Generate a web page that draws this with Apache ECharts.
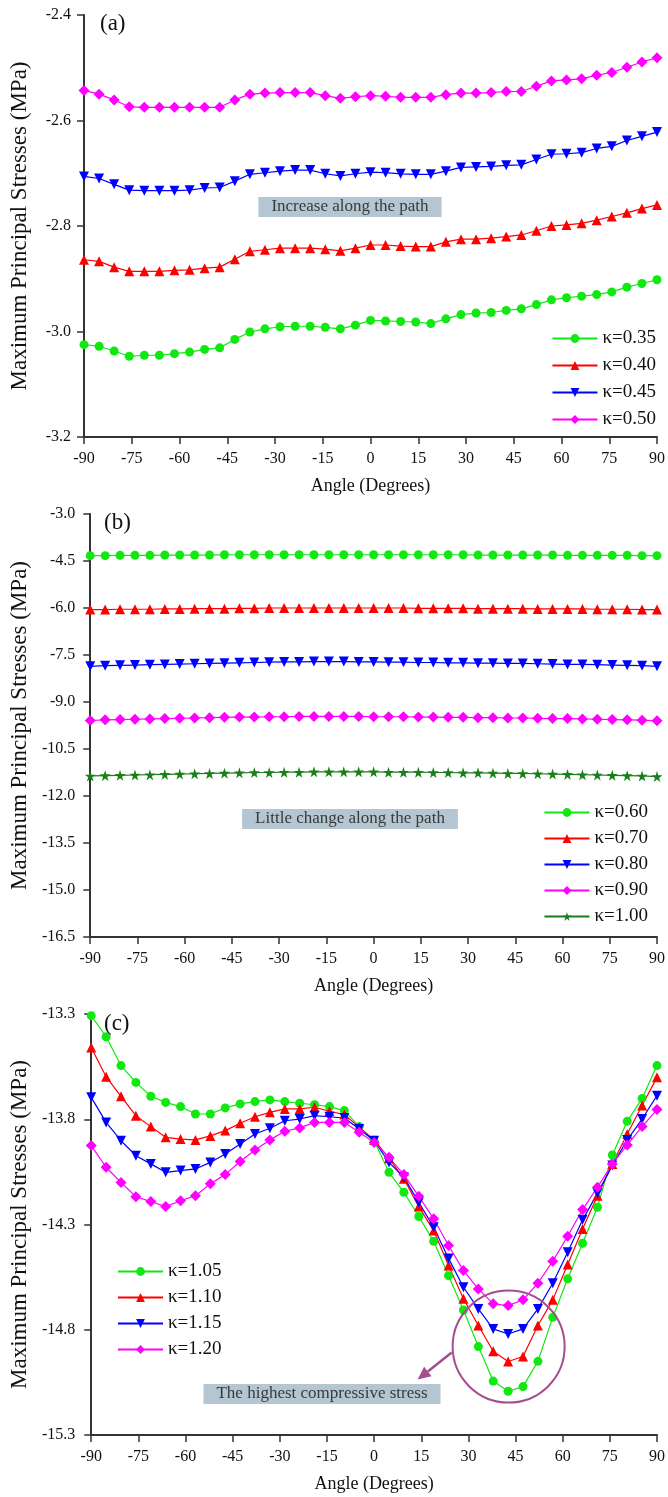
<!DOCTYPE html>
<html>
<head>
<meta charset="utf-8">
<title>Maximum principal stresses along the path</title>
<script src="https://cdn.jsdelivr.net/npm/echarts@6/dist/echarts.min.js"></script>
<style>
html,body{margin:0;padding:0;background:#fff;}
#chart{width:668px;height:1497px;}
</style>
</head>
<body>
<div id="chart"></div>
<script>
// sample points along the path (degrees)
var ANGLES = [-90, -85.26, -80.53, -75.79, -71.05, -66.32, -61.58, -56.84, -52.11, -47.37,
	-42.63, -37.89, -33.16, -28.42, -23.68, -18.95, -14.21, -9.47, -4.74, 0,
	4.74, 9.47, 14.21, 18.95, 23.68, 28.42, 33.16, 37.89, 42.63, 47.37,
	52.11, 56.84, 61.58, 66.32, 71.05, 75.79, 80.53, 85.26, 90];

// (a) k = 0.35 ~ 0.50
var A_K035 = [-3.025,-3.028,-3.037,-3.047,-3.045,-3.045,-3.042,-3.039,-3.034,-3.031,
	-3.015,-3.001,-2.995,-2.991,-2.990,-2.990,-2.992,-2.995,-2.988,-2.979,
	-2.980,-2.981,-2.982,-2.985,-2.976,-2.968,-2.965,-2.964,-2.960,-2.957,
	-2.949,-2.940,-2.936,-2.933,-2.930,-2.925,-2.916,-2.909,-2.902];
var A_K040 = [-2.864,-2.867,-2.878,-2.886,-2.886,-2.886,-2.884,-2.883,-2.880,-2.878,
	-2.863,-2.848,-2.845,-2.842,-2.842,-2.842,-2.844,-2.847,-2.842,-2.836,
	-2.836,-2.838,-2.839,-2.839,-2.830,-2.825,-2.825,-2.823,-2.820,-2.817,
	-2.809,-2.800,-2.798,-2.795,-2.789,-2.782,-2.775,-2.767,-2.760];
var A_K045 = [-2.706,-2.710,-2.721,-2.732,-2.733,-2.733,-2.733,-2.732,-2.728,-2.727,
	-2.715,-2.702,-2.699,-2.696,-2.694,-2.694,-2.701,-2.705,-2.701,-2.698,
	-2.699,-2.701,-2.702,-2.702,-2.696,-2.689,-2.688,-2.687,-2.685,-2.684,
	-2.674,-2.664,-2.663,-2.661,-2.653,-2.649,-2.638,-2.630,-2.622];
var A_K050 = [-2.543,-2.550,-2.561,-2.574,-2.575,-2.575,-2.575,-2.575,-2.575,-2.575,
	-2.561,-2.550,-2.548,-2.547,-2.547,-2.547,-2.553,-2.558,-2.555,-2.553,
	-2.554,-2.556,-2.556,-2.556,-2.551,-2.548,-2.548,-2.547,-2.545,-2.545,
	-2.535,-2.525,-2.523,-2.521,-2.514,-2.509,-2.499,-2.489,-2.481];

// (b) k = 0.60 ~ 1.00
var B_K060 = [-4.33,-4.33,-4.32,-4.32,-4.32,-4.31,-4.31,-4.31,-4.31,-4.30,
	-4.30,-4.30,-4.30,-4.30,-4.30,-4.30,-4.30,-4.30,-4.30,-4.30,
	-4.30,-4.30,-4.30,-4.30,-4.30,-4.30,-4.31,-4.31,-4.31,-4.31,
	-4.31,-4.31,-4.32,-4.32,-4.32,-4.32,-4.32,-4.33,-4.33];
var B_K070 = [-6.05,-6.05,-6.04,-6.04,-6.04,-6.03,-6.03,-6.02,-6.02,-6.02,
	-6.01,-6.01,-6.00,-6.00,-6.00,-6.00,-6.00,-6.00,-6.00,-6.00,
	-6.00,-6.00,-6.01,-6.01,-6.01,-6.01,-6.02,-6.02,-6.02,-6.02,
	-6.03,-6.03,-6.03,-6.03,-6.04,-6.04,-6.04,-6.05,-6.05];
var B_K080 = [-7.86,-7.84,-7.83,-7.82,-7.81,-7.80,-7.79,-7.78,-7.77,-7.76,
	-7.75,-7.74,-7.73,-7.72,-7.72,-7.71,-7.71,-7.71,-7.72,-7.72,
	-7.73,-7.73,-7.74,-7.74,-7.75,-7.75,-7.76,-7.76,-7.77,-7.77,
	-7.78,-7.79,-7.80,-7.80,-7.81,-7.82,-7.83,-7.84,-7.86];
var B_K090 = [-9.59,-9.57,-9.56,-9.55,-9.54,-9.53,-9.52,-9.51,-9.50,-9.49,
	-9.48,-9.48,-9.47,-9.47,-9.46,-9.46,-9.46,-9.46,-9.46,-9.47,
	-9.47,-9.47,-9.48,-9.48,-9.49,-9.49,-9.50,-9.50,-9.51,-9.51,
	-9.52,-9.53,-9.53,-9.54,-9.55,-9.56,-9.57,-9.58,-9.60];
var B_K100 = [-11.36,-11.35,-11.34,-11.33,-11.32,-11.31,-11.30,-11.29,-11.28,-11.27,
	-11.26,-11.25,-11.25,-11.24,-11.24,-11.23,-11.23,-11.23,-11.23,-11.23,
	-11.24,-11.24,-11.24,-11.25,-11.25,-11.26,-11.26,-11.27,-11.28,-11.28,
	-11.29,-11.30,-11.31,-11.32,-11.33,-11.34,-11.35,-11.36,-11.38];

// (c) k = 1.05 ~ 1.20
var C_K105 = [-13.308,-13.408,-13.545,-13.625,-13.691,-13.720,-13.740,-13.775,-13.775,-13.746,
	-13.727,-13.716,-13.708,-13.716,-13.724,-13.731,-13.740,-13.759,-13.835,-13.902,
	-14.052,-14.147,-14.262,-14.380,-14.543,-14.706,-14.880,-15.044,-15.092,-15.070,
	-14.950,-14.741,-14.558,-14.389,-14.218,-13.970,-13.810,-13.701,-13.545];
var C_K110 = [-13.459,-13.598,-13.691,-13.783,-13.835,-13.886,-13.894,-13.898,-13.879,-13.854,
	-13.819,-13.788,-13.767,-13.751,-13.751,-13.743,-13.762,-13.778,-13.838,-13.898,
	-13.985,-14.083,-14.215,-14.329,-14.495,-14.653,-14.780,-14.902,-14.951,-14.927,
	-14.780,-14.658,-14.490,-14.321,-14.163,-14.012,-13.870,-13.735,-13.601];
var C_K115 = [-13.696,-13.815,-13.902,-13.973,-14.012,-14.052,-14.044,-14.036,-14.005,-13.965,
	-13.917,-13.870,-13.843,-13.807,-13.799,-13.783,-13.788,-13.794,-13.846,-13.902,
	-14.005,-14.076,-14.195,-14.313,-14.461,-14.598,-14.701,-14.796,-14.820,-14.796,
	-14.701,-14.579,-14.432,-14.278,-14.152,-14.020,-13.898,-13.799,-13.688];
var C_K120 = [-13.925,-14.028,-14.100,-14.168,-14.191,-14.215,-14.187,-14.163,-14.107,-14.063,
	-14.001,-13.946,-13.898,-13.857,-13.841,-13.815,-13.815,-13.815,-13.862,-13.910,
	-13.981,-14.063,-14.166,-14.273,-14.400,-14.519,-14.606,-14.677,-14.685,-14.658,
	-14.579,-14.474,-14.356,-14.229,-14.123,-14.012,-13.922,-13.835,-13.754];

// tick values of the y axes
var A_TICKS = [-3.2, -3.0, -2.8, -2.6, -2.4];
var B_TICKS = [-16.5, -15.0, -13.5, -12.0, -10.5, -9.0, -7.5, -6.0, -4.5, -3.0];
var C_TICKS = [-15.3, -14.8, -14.3, -13.8, -13.3];

// where the circle of the highest compressive stress sits (data coords of panel c)
var HIGHLIGHT_CENTER = [42.8, -14.88];

var FONT = "'Liberation Serif','Times New Roman',serif";
var STAR = 'path://M50,0 L61,35 L98,35 L68,57 L79,91 L50,70 L21,91 L32,57 L2,35 L39,35 Z';

var chart = echarts.init(document.getElementById('chart'));

// one line series, markers on every point
function makeSeries(name, values, idx, color, symbol, rotate, size)
{
	var data = [];
	for(var i=0;i<ANGLES.length;i++)
	{
		data.push([ANGLES[i], values[i]]);
	}
	return {
		name: name,
		type: 'line',
		xAxisIndex: idx,
		yAxisIndex: idx,
		data: data,
		symbol: symbol,
		symbolRotate: rotate || 0,
		symbolSize: size || 9,
		showAllSymbol: true,
		clip: false,
		lineStyle: {color: color, width: 1.2},
		itemStyle: {color: color}
	};
}

function makeXAxis(idx)
{
	return {
		type: 'value', gridIndex: idx, min: -90, max: 90, interval: 15,
		name: 'Angle (Degrees)', nameLocation: 'middle', nameGap: 40,
		nameTextStyle: {fontFamily: FONT, fontSize: 18, color: '#111'},
		axisLine: {onZero: false, lineStyle: {color: '#333', width: 2}},
		axisTick: {length: 7, lineStyle: {color: '#333', width: 1.5}},
		axisLabel: {fontFamily: FONT, fontSize: 16, color: '#111', margin: 14},
		splitLine: {show: false}
	};
}

function makeYAxis(idx, ticks, gap, margin)
{
	return {
		type: 'value', gridIndex: idx,
		min: ticks[0], max: ticks[ticks.length-1],
		name: 'Maximum Principal Stresses (MPa)', nameLocation: 'middle', nameGap: gap,
		nameTextStyle: {fontFamily: FONT, fontSize: 23, color: '#111'},
		axisLine: {onZero: false, lineStyle: {color: '#333', width: 2}},
		axisTick: {length: 7, customValues: ticks, lineStyle: {color: '#333', width: 1.5}},
		axisLabel: {
			customValues: ticks, fontFamily: FONT, fontSize: 16, color: '#111', margin: margin,
			formatter: function(v){ return v.toFixed(1); }
		},
		splitLine: {show: false}
	};
}

function makeLegend(names, pos, gap)
{
	var legend = {
		orient: 'vertical',
		data: names,
		itemWidth: 45,
		itemHeight: 11,
		itemGap: gap,
		padding: 0,
		textStyle: {fontFamily: FONT, fontSize: 19, color: '#111', lineHeight: 18}
	};
	for(var k in pos)
	{
		legend[k] = pos[k];
	}
	return legend;
}

// grey-blue text box
function noteText(text, x, y)
{
	return {
		type: 'text', x: x, y: y, z: 50,
		style: {
			text: text, fontFamily: FONT, fontSize: 17, fill: '#3a3a3a',
			align: 'center', verticalAlign: 'middle',
			backgroundColor: '#b3c6d1', padding: [2, 13, 1, 13]
		}
	};
}

function panelLabel(text, x, y)
{
	return {
		type: 'text', x: x, y: y, z: 50,
		style: {text: text, fontFamily: FONT, fontSize: 23, fill: '#111'}
	};
}

var GREEN = '#11e811', RED = '#ff0000', BLUE = '#0000ff', PINK = '#ff00ff', OLIVE = '#1a7f1a';

var option = {
	animation: false,
	backgroundColor: '#fff',
	grid: [
		{left: 83, top: 15, width: 575, height: 422},
		{left: 87, top: 514, width: 572, height: 423},
		{left: 87, top: 1014, width: 572, height: 421}
	],
	xAxis: [makeXAxis(0), makeXAxis(1), makeXAxis(2)],
	yAxis: [
		makeYAxis(0, A_TICKS, 53, 13),
		makeYAxis(1, B_TICKS, 57, 15),
		makeYAxis(2, C_TICKS, 57, 16)
	],
	legend: [
		makeLegend(['κ=0.35','κ=0.40','κ=0.45','κ=0.50'], {right: 12, top: 329}, 8),
		makeLegend(['κ=0.60','κ=0.70','κ=0.80','κ=0.90','κ=1.00'], {right: 20, top: 803}, 7),
		makeLegend(['κ=1.05','κ=1.10','κ=1.15','κ=1.20'], {left: 117, top: 1262}, 7)
	],
	series: [
		makeSeries('κ=0.35', A_K035, 0, GREEN, 'circle', 0, 9),
		makeSeries('κ=0.40', A_K040, 0, RED, 'triangle', 0, 10),
		makeSeries('κ=0.45', A_K045, 0, BLUE, 'triangle', 180, 10),
		makeSeries('κ=0.50', A_K050, 0, PINK, 'diamond', 0, 11),
		makeSeries('κ=0.60', B_K060, 1, GREEN, 'circle', 0, 9),
		makeSeries('κ=0.70', B_K070, 1, RED, 'triangle', 0, 10),
		makeSeries('κ=0.80', B_K080, 1, BLUE, 'triangle', 180, 10),
		makeSeries('κ=0.90', B_K090, 1, PINK, 'diamond', 0, 11),
		makeSeries('κ=1.00', B_K100, 1, OLIVE, STAR, 0, 11),
		makeSeries('κ=1.05', C_K105, 2, GREEN, 'circle', 0, 9),
		makeSeries('κ=1.10', C_K110, 2, RED, 'triangle', 0, 10),
		makeSeries('κ=1.15', C_K115, 2, BLUE, 'triangle', 180, 10),
		makeSeries('κ=1.20', C_K120, 2, PINK, 'diamond', 0, 11)
	]
};
chart.setOption(option);

// annotations: labels, text boxes, circle + arrow (need pixel positions from panel c)
var c = chart.convertToPixel({gridIndex: 2}, HIGHLIGHT_CENTER);
var r = 56;
var from = [c[0]-57, c[1]+6];
var to = [c[0]-91, c[1]+33];
var dx = to[0]-from[0], dy = to[1]-from[1];
var len = Math.sqrt(dx*dx+dy*dy);
var ux = dx/len, uy = dy/len;
var headLen = 13, headW = 6;
var base = [to[0]-ux*headLen, to[1]-uy*headLen];

chart.setOption({
	graphic: [
		panelLabel('(a)', 100, 12),
		panelLabel('(b)', 104, 511),
		panelLabel('(c)', 104, 1012),
		noteText('Increase along the path', 350, 207),
		noteText('Little change along the path', 350, 819),
		noteText('The highest compressive stress', 322, 1394),
		{
			type: 'circle', z: 40,
			shape: {cx: c[0], cy: c[1], r: r},
			style: {fill: 'none', stroke: '#a54d8e', lineWidth: 2}
		},
		{
			type: 'line', z: 40,
			shape: {x1: from[0], y1: from[1], x2: base[0], y2: base[1]},
			style: {stroke: '#a54d8e', lineWidth: 2.5}
		},
		{
			type: 'polygon', z: 40,
			shape: {points: [to, [base[0]-uy*headW, base[1]+ux*headW], [base[0]+uy*headW, base[1]-ux*headW]]},
			style: {fill: '#a54d8e'}
		}
	]
});
</script>
</body>
</html>
